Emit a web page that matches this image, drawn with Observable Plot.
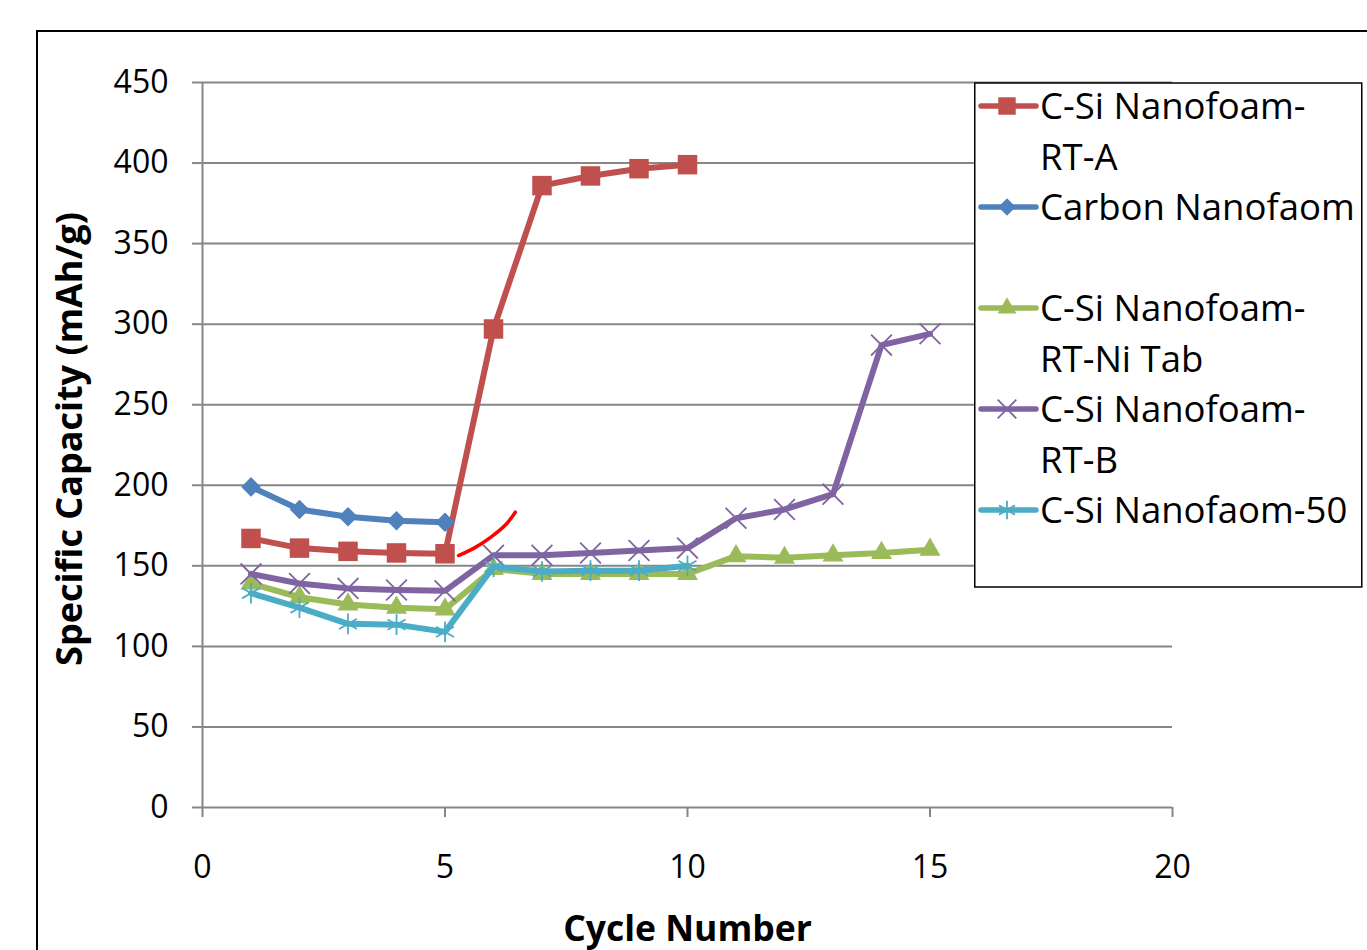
<!DOCTYPE html>
<html><head><meta charset="utf-8">
<script src="https://cdn.jsdelivr.net/npm/d3@7"></script>
<script src="https://cdn.jsdelivr.net/npm/@observablehq/plot@0.6"></script>
<style>
html,body{margin:0;padding:0;background:#fff;}
body{width:1367px;height:950px;overflow:hidden;position:relative;font-family:"Open Sans",sans-serif;}
#frame{position:absolute;left:36px;top:30px;width:1400px;height:1000px;border:2px solid #000;box-sizing:border-box;}
#chart{position:absolute;left:0;top:0;}
#legend{position:absolute;left:0;top:0;}
</style></head>
<body>
<div id="frame"></div>
<div id="chart"></div>
<svg id="legend" width="1367" height="950"></svg>
<script>
// ---- data ----
const xTicks = [0, 5, 10, 15, 20];
const yTicks = [0, 50, 100, 150, 200, 250, 300, 350, 400, 450];

const cycleRTA = [1, 2, 3, 4, 5, 6, 7, 8, 9, 10];
const capRTA = [167, 161, 159, 158, 157.5, 297, 386, 392, 396.5, 399];

const cycleCarbon = [1, 2, 3, 4, 5];
const capCarbon = [199, 185, 180.5, 178, 177];

const cycleNiTab = [1, 2, 3, 4, 5, 6, 7, 8, 9, 10, 11, 12, 13, 14, 15];
const capNiTab = [139, 130.5, 126, 124, 123, 148, 145, 145, 145, 145, 156, 155, 156.5, 158, 160];

const cycleRTB = [1, 2, 3, 4, 5, 6, 7, 8, 9, 10, 11, 12, 13, 14, 15];
const capRTB = [145, 139, 136, 135, 134.5, 156.5, 156.5, 158, 159.5, 161, 179.5, 185, 194.5, 287, 294];

const cycle50 = [1, 2, 3, 4, 5, 6, 7, 8, 9, 10];
const cap50 = [133, 124, 114, 113.5, 109, 149.5, 146.5, 147, 147, 150];

// hand-drawn red annotation stroke (data units)
const markX = [5.28, 5.6, 5.94, 6.25, 6.45];
const markY = [156.4, 161, 167.7, 175.5, 183.3];

const legendLabels = [["C-Si Nanofoam-", "RT-A"], ["Carbon Nanofaom", ""], ["C-Si Nanofoam-", "RT-Ni Tab"], ["C-Si Nanofoam-", "RT-B"], ["C-Si Nanofaom-50"]];
const colors = ["#C0504D", "#4F81BD", "#9BBB59", "#8064A2", "#4BACC6"];
const symbols = ["square", "diamond2", "triangle", "times", "asterisk"];
const radii = [11, 8.8, 7.8, 9.5, 9.8];
const filled = [true, true, true, false, false];

const series = [
  {x: cycleRTA, y: capRTA},
  {x: cycleCarbon, y: capCarbon},
  {x: cycleNiTab, y: capNiTab},
  {x: cycleRTB, y: capRTB},
  {x: cycle50, y: cap50}
].map((s, i) => ({...s, color: colors[i], symbol: symbols[i], r: radii[i], filled: filled[i], label: legendLabels[i]}));

const FONT = "'Open Sans', sans-serif";
const marks = [
  Plot.ruleY(yTicks, {stroke: "#868686", strokeWidth: 2}),
  Plot.ruleX([0], {stroke: "#868686", strokeWidth: 2}),
  Plot.axisY(yTicks, {tickSize: 10, tickPadding: 24, stroke: "#868686", strokeWidth: 2, fill: "#000", fontSize: 32, label: null}),
  Plot.axisX(xTicks, {tickSize: 10, tickPadding: 38, stroke: "#868686", strokeWidth: 2, fill: "#000", fontSize: 32, label: null}),
  Plot.text(["Specific Capacity (mAh/g)"], {frameAnchor: "left", dx: -132, dy: -6, rotate: -90, textAnchor: "middle", fontSize: 36, fontWeight: "bold", fill: "#000"}),
  Plot.text(["Cycle Number"], {frameAnchor: "bottom", dy: 133, textAnchor: "middle", fontSize: 35.5, fontWeight: "bold", fill: "#000"})
];
for (const s of series) {
  const idx = d3.range(s.x.length);
  marks.push(Plot.line(idx, {x: i => s.x[i], y: i => s.y[i], stroke: s.color, strokeWidth: 6}));
  if (s.filled) {
    marks.push(Plot.dot(idx, {x: i => s.x[i], y: i => s.y[i], symbol: s.symbol, fill: s.color, stroke: "none", r: s.r}));
  } else {
    marks.push(Plot.dot(idx, {x: i => s.x[i], y: i => s.y[i], symbol: s.symbol, fill: "none", stroke: s.color, strokeWidth: 1.8, r: s.r}));
  }
}
marks.push(Plot.line(d3.range(markX.length), {x: i => markX[i], y: i => markY[i], stroke: "#FF0000", strokeWidth: 3.5, curve: "catmull-rom"}));

const chart = Plot.plot({
  width: 1367, height: 950,
  marginLeft: 202, marginRight: 195, marginTop: 82, marginBottom: 143,
  x: {domain: [0, 20]},
  y: {domain: [0, 450]},
  style: {fontFamily: FONT, background: "transparent", overflow: "visible", color: "#000"},
  marks
});
document.getElementById("chart").appendChild(chart);

// ---- legend overlay ----
const lg = d3.select("#legend");
const L = {x: 974.75, y: 83, w: 387, h: 504, x1: 981, x2: 1036, mx: 1007, tx: 1040, y0: 106, dy: 50.5, fs: 36.5};
lg.append("rect").attr("x", L.x).attr("y", L.y).attr("width", L.w).attr("height", L.h)
  .attr("fill", "#fff").attr("stroke", "#000").attr("stroke-width", 1.5);
const symMap = {square: d3.symbolSquare, diamond2: d3.symbolDiamond2, triangle: d3.symbolTriangle, times: d3.symbolTimes, asterisk: d3.symbolAsterisk};
let line = 0;
series.forEach(s => {
  const cy = L.y0 + line * L.dy;
  lg.append("line").attr("x1", L.x1).attr("x2", L.x2).attr("y1", cy).attr("y2", cy)
    .attr("stroke", s.color).attr("stroke-width", 5.5).attr("stroke-linecap", "round");
  const p = lg.append("path").attr("transform", `translate(${L.mx},${cy})`)
    .attr("d", d3.symbol(symMap[s.symbol], Math.PI * s.r * s.r * 0.8)());
  if (s.filled) p.attr("fill", s.color); else p.attr("fill", "none").attr("stroke", s.color).attr("stroke-width", 1.8);
  s.label.forEach(t => {
    lg.append("text").attr("x", L.tx).attr("y", L.y0 + line * L.dy + 0.357 * L.fs)
      .attr("font-family", FONT).attr("font-size", L.fs).attr("fill", "#000").text(t);
    line++;
  });
});
</script>
</body></html>
